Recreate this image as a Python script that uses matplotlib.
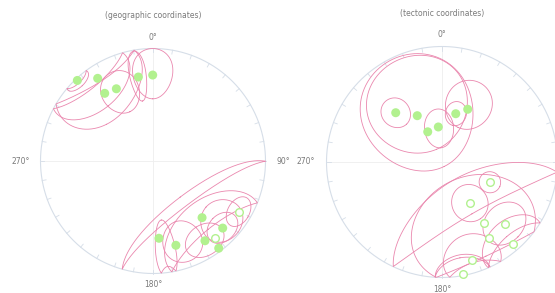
import numpy as np
import matplotlib.pyplot as plt

# site means, geographic coordinates (declination, inclination; negative = upper hemisphere)
geo_dec = [316.8, 326.2, 324.5, 333.1, 350.1, 359.8, 175.6, 164.8, 139.1, 133.9, 146.9, 143.0, 120.6, 141.1]
geo_inc = [2.0, 12.6, 27.0, 28.8, 25.2, 24.6, 31.7, 23.4, 33.8, 15.1, 16.5, 3.3, -12.3, -13.4]

# confidence ellipses, geographic: centre, semi-axis along dip, semi-axis across dip, rotation
geo_ell_dec = [316.8, 324.0, 321.0, 334.8, 350.0, 359.8, 172.0, 160.0, 131.0, 133.9, 146.9, 143.0, 120.6, 141.1]
geo_ell_inc = [2.0, 16.0, 10.0, 32.0, 23.0, 22.0, 20.0, 24.0, 19.6, 15.1, 16.5, 4.0, -12.3, -12.0]
geo_ell_a = [7, 33, 27, 18, 22, 22, 26, 18, 18, 12, 14, 53, 10, 35]
geo_ell_b = [7, 28, 25, 12, 5, 12, 6, 12, 13, 10, 12, 53, 9, 31]
geo_ell_rot = [0, -20, 0, 0, 0, 0, 0, 0, 0, 0, 0, 0, 0, 0]

# site means, tectonic coordinates
tec_dec = [316.8, 331.9, 334.7, 354.0, 15.9, 26.0, 112.9, 145.9, 145.8, 134.6, 148.2, 139.1, 162.8, 169.4]
tec_inc = [41.1, 52.5, 66.4, 65.1, 54.2, 47.9, -52.8, -54.4, -36.0, -24.5, -23.3, -6.4, -12.2, -1.3]

tec_ell_dec = [316.8, 334.0, 337.0, 355.0, 16.0, 25.0, 112.9, 145.9, 155.0, 134.6, 150.0, 139.1, 162.8, 169.4]
tec_ell_inc = [41.0, 47.5, 42.3, 66.0, 54.0, 44.0, -52.8, -54.4, -32.0, -24.5, -14.0, -6.4, -12.2, -1.3]
tec_ell_a = [12, 46, 38, 14, 9, 19, 8, 14, 43, 16, 61, 22, 22, 18]
tec_ell_b = [9, 37, 33, 10, 7, 15, 7, 12, 40, 14, 56, 18, 16, 14]
tec_ell_rot = [0, 0, 0, 0, 0, 0, 0, 0, 0, 0, 0, 0, 0, 0]

PINK = "#ea87ae"
GREEN = "#b2f18f"
GRID = "#d6dee8"
TEXT = "#7a7a7a"


def project(dec, inc):
    # equal-area (Schmidt), everything folded onto the lower hemisphere
    d = np.radians(np.asarray(dec, dtype=float))
    i = np.radians(np.abs(np.asarray(inc, dtype=float)))
    r = np.sqrt(1 - np.sin(i))
    return r * np.sin(d), r * np.cos(d)


def ellipse(dec, inc, a, b, rot, n=500):
    D, I = np.radians(dec), np.radians(inc)
    m = np.array([np.cos(I) * np.cos(D), np.cos(I) * np.sin(D), np.sin(I)])
    e1 = np.array([-np.sin(I) * np.cos(D), -np.sin(I) * np.sin(D), np.cos(I)])
    e2 = np.array([-np.sin(D), np.cos(D), 0.0])
    r = np.radians(rot)
    u = np.cos(r) * e1 + np.sin(r) * e2
    v = -np.sin(r) * e1 + np.cos(r) * e2
    t = np.linspace(0, 2 * np.pi, n)
    p = (m[:, None] + np.tan(np.radians(a)) * np.cos(t) * u[:, None]
         + np.tan(np.radians(b)) * np.sin(t) * v[:, None])
    p /= np.linalg.norm(p, axis=0)
    return project(np.degrees(np.arctan2(p[1], p[0])), np.degrees(np.arcsin(p[2])))


def draw_net(ax, title, decs, incs, edec, einc, ea, eb, erot, show_east=True):
    th = np.linspace(0, 2 * np.pi, 721)
    ax.plot([-1, 1], [0, 0], color="#eeeeee", lw=0.6, zorder=0)
    ax.plot([0, 0], [-1, 1], color="#eeeeee", lw=0.6, zorder=0)
    ax.plot(np.cos(th), np.sin(th), color=GRID, lw=0.8, zorder=1, clip_on=False)
    for az in np.radians(np.arange(0, 360, 10)):
        ax.plot([0.965 * np.sin(az), np.sin(az)], [0.965 * np.cos(az), np.cos(az)],
                color=GRID, lw=0.6, zorder=1, clip_on=False)

    for k in range(len(edec)):
        x, y = ellipse(edec[k], einc[k], ea[k], eb[k], erot[k])
        ax.plot(x, y, color=PINK, lw=0.6, zorder=2, clip_on=False)

    x, y = project(decs, incs)
    down = np.asarray(incs) >= 0
    ax.scatter(x[down], y[down], s=42, color=GREEN, edgecolors="none", zorder=3, clip_on=False)
    ax.scatter(x[~down], y[~down], s=30, facecolors="white", edgecolors=GREEN,
               linewidths=1.0, zorder=3, clip_on=False)

    kw = dict(color=TEXT, fontsize=5.5, ha="center", va="center")
    ax.text(0, 1.29, title, **kw)
    ax.text(0, 1.1, "0°", **kw)
    ax.text(0, -1.1, "180°", **kw)
    ax.text(-1.18, 0, "270°", **kw)
    if show_east:
        ax.text(1.16, 0, "90°", **kw)

    ax.set_xlim(-1, 1)
    ax.set_ylim(-1, 1)
    ax.axis("off")


fig = plt.figure(figsize=(5.55, 2.93), dpi=100)
ax1 = fig.add_axes([(153 - 112.5) / 555, (293 - 161 - 112.5) / 293, 225 / 555, 225 / 293])
ax2 = fig.add_axes([(442 - 115.5) / 555, (293 - 162 - 115.5) / 293, 231 / 555, 231 / 293])

draw_net(ax1, "(geographic coordinates)", geo_dec, geo_inc,
         geo_ell_dec, geo_ell_inc, geo_ell_a, geo_ell_b, geo_ell_rot)
draw_net(ax2, "(tectonic coordinates)", tec_dec, tec_inc,
         tec_ell_dec, tec_ell_inc, tec_ell_a, tec_ell_b, tec_ell_rot, show_east=False)

fig.savefig("out.png", dpi=100)
